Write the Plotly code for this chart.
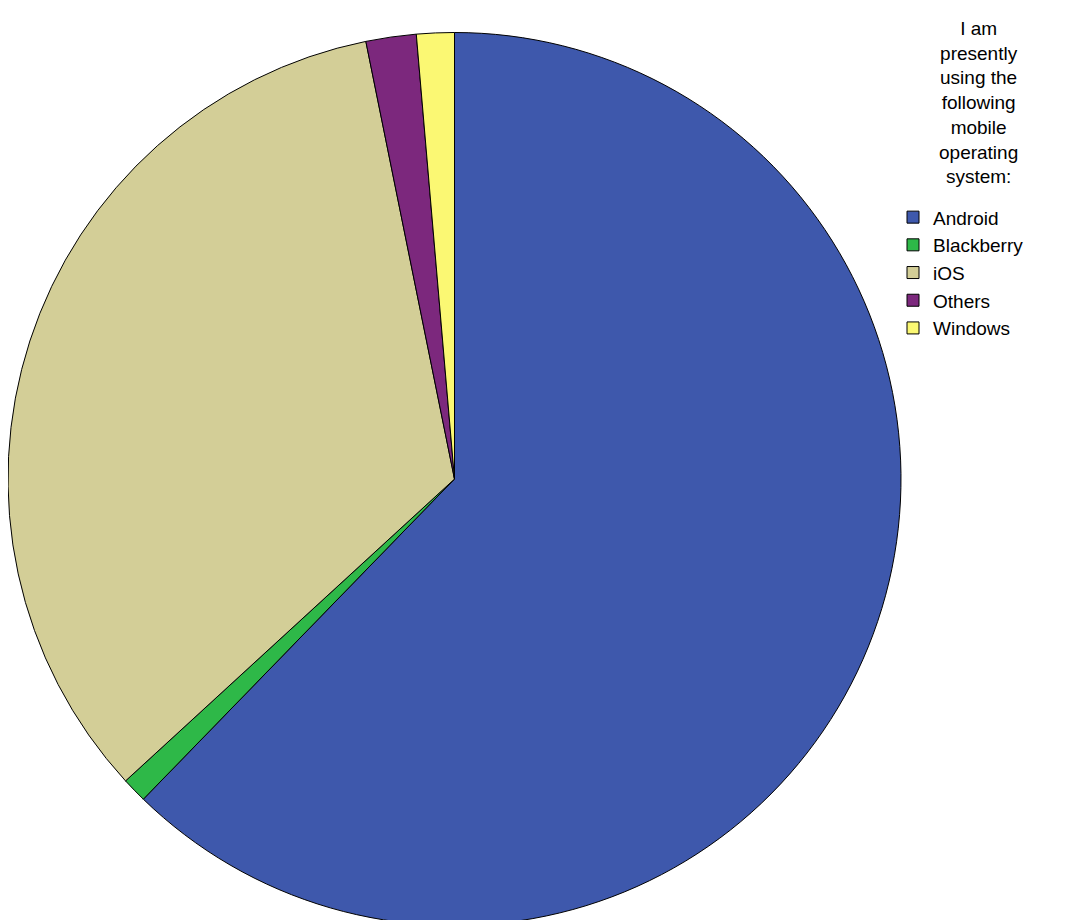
import plotly.graph_objects as go

# survey answers (counts)
systems = ["Android", "Blackberry", "iOS", "Others", "Windows"]
counts = [137, 2, 74, 4, 3]
colors = ["#3E58AC", "#2EB848", "#D3CE97", "#7C287D", "#FBF873"]

LEGEND_TITLE = "I am<br>presently<br>using the<br>following<br>mobile<br>operating<br>system:"

fig = go.Figure(
    go.Pie(
        labels=systems,
        values=counts,
        sort=False,
        direction="clockwise",
        rotation=0,
        textinfo="none",
        marker=dict(colors=colors, line=dict(color="#000000", width=1)),
        domain=dict(x=[0, 893 / 1065], y=[0, 1]),
    )
)

# centred multi-line legend heading (legend titles can't centre each line)
fig.add_annotation(
    text=LEGEND_TITLE,
    xref="paper", yref="paper",
    x=970 / 1065, y=1.016,
    xanchor="center", yanchor="top",
    align="center",
    showarrow=False,
    font=dict(size=19),
)

fig.update_layout(
    width=1065,
    height=920,
    margin=dict(l=0, r=0, t=22, b=0),
    paper_bgcolor="white",
    plot_bgcolor="white",
    font=dict(family="Liberation Sans, Arial, sans-serif", size=19, color="#000000"),
    legend=dict(
        x=0.831,
        xanchor="left",
        y=0.8126,
        yanchor="top",
        font=dict(size=19),
        bgcolor="rgba(0,0,0,0)",
    ),
)

fig.write_html("out.html")
